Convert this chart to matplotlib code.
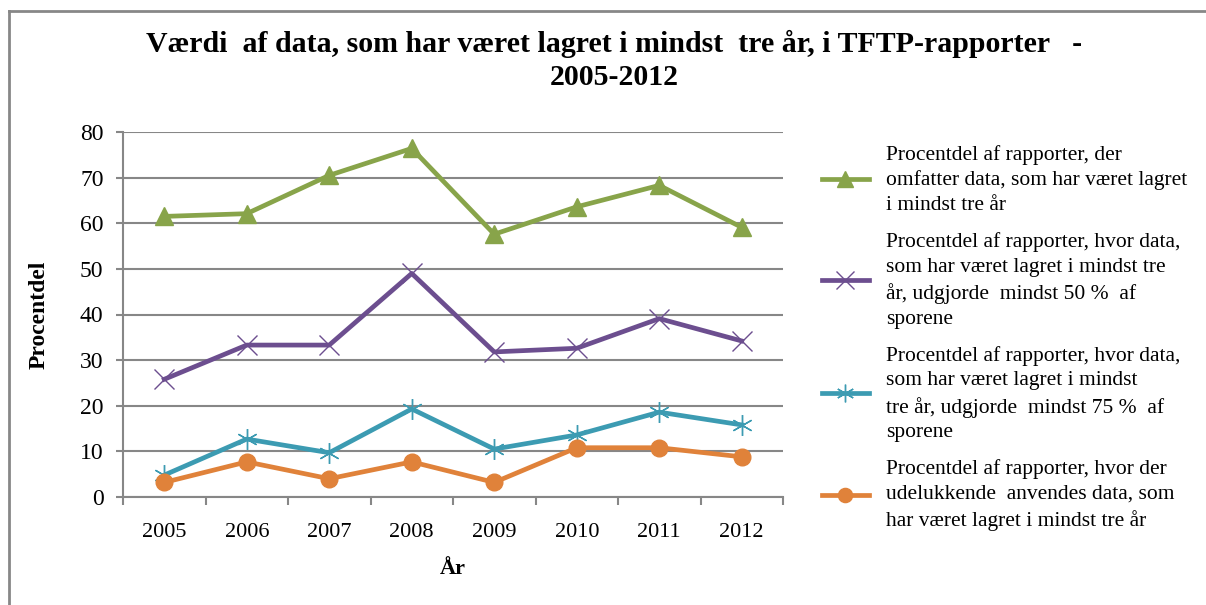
import numpy as np
import matplotlib
matplotlib.use('Agg')
import matplotlib.pyplot as plt
from matplotlib.lines import Line2D

plt.rcParams['font.family'] = ['Liberation Serif', 'DejaVu Serif']

years = ['2005', '2006', '2007', '2008', '2009', '2010', '2011', '2012']
pct_any = [61.5, 62.1, 70.5, 76.4, 57.6, 63.6, 68.3, 59.1]
pct_50 = [25.8, 33.3, 33.3, 49.0, 31.8, 32.6, 39.1, 34.2]
pct_75 = [4.8, 12.7, 9.7, 19.3, 10.5, 13.6, 18.6, 15.8]
pct_only = [3.2, 7.7, 4.0, 7.7, 3.2, 10.8, 10.8, 8.8]

labels = [
    'Procentdel af rapporter, der\nomfatter data, som har været lagret\ni mindst tre år',
    'Procentdel af rapporter, hvor data,\nsom har været lagret i mindst tre\når, udgjorde  mindst 50 %  af\nsporene',
    'Procentdel af rapporter, hvor data,\nsom har været lagret i mindst\ntre år, udgjorde  mindst 75 %  af\nsporene',
    'Procentdel af rapporter, hvor der\nudelukkende  anvendes data, som\nhar været lagret i mindst tre år',
]

green = '#88a44a'
purple = '#6c4e8f'
teal = '#3c9bb2'
orange = '#e0823a'
grid_c = '#878787'

fig = plt.figure(figsize=(12.06, 6.05), dpi=100)
ax = fig.add_axes([123/1206, 1 - 497/605, (783-123)/1206, (497-132)/605])

# outer chart border (left + top visible)
fig.add_artist(Line2D([8.5/1206, 8.5/1206], [0, 1 - 11/605], color=grid_c, lw=2, transform=fig.transFigure))
fig.add_artist(Line2D([8.5/1206, 1], [1 - 11/605, 1 - 11/605], color=grid_c, lw=2, transform=fig.transFigure))

x = np.arange(len(years))
ax.plot(x, pct_any, color=green, lw=3.4, marker='^', ms=13, label=labels[0])
ax.plot(x, pct_50, color=purple, lw=3.4, marker='x', ms=15, mew=1.0, label=labels[1])
ax.plot(x, pct_75, color=teal, lw=3.4, marker=(6, 2, 0), ms=15, mew=1.0, label=labels[2])
ax.plot(x, pct_only, color=orange, lw=3.4, marker='o', ms=12, label=labels[3])

ax.set_xlim(-0.5, len(years) - 0.5)
ax.set_ylim(0, 80)
ax.set_yticks(np.arange(0, 81, 10))
ax.set_xticks(x)
ax.set_xticklabels(years)
ax.set_xticks(np.arange(-0.5, len(years), 1.0), minor=True)
ax.tick_params(axis='x', which='major', length=0, pad=19, labelsize=16)
ax.tick_params(axis='x', which='minor', length=6, width=1.5, color=grid_c)
ax.tick_params(axis='y', length=5, width=1.5, color=grid_c, labelsize=17, pad=9)

ax.grid(axis='y', color=grid_c, lw=1.5)
ax.set_axisbelow(True)
for s in ['top', 'right']:
    ax.spines[s].set_visible(False)
for s in ['left', 'bottom']:
    ax.spines[s].set_color(grid_c)
    ax.spines[s].set_linewidth(1.5)

ax.set_xlabel('År', fontsize=16, fontweight='bold', labelpad=12)
ax.set_ylabel('Procentdel', fontsize=17, fontweight='bold', labelpad=22)

fig.text(614/1206, 1 - 30/605, 'Værdi  af data, som har været lagret i mindst  tre år, i TFTP-rapporter   -\n2005-2012',
         ha='center', va='top', fontsize=21.5, fontweight='bold', linespacing=1.3)

leg = fig.legend(loc='upper left', bbox_to_anchor=(813/1206, 1 - 136/605), frameon=False,
                 fontsize=15.5, handlelength=2.2, handletextpad=0.8, labelspacing=0.8,
                 borderaxespad=0, markerscale=0.85)
for t in leg.get_texts():
    t.set_linespacing(1.4)

fig.savefig('out.png', dpi=100)
